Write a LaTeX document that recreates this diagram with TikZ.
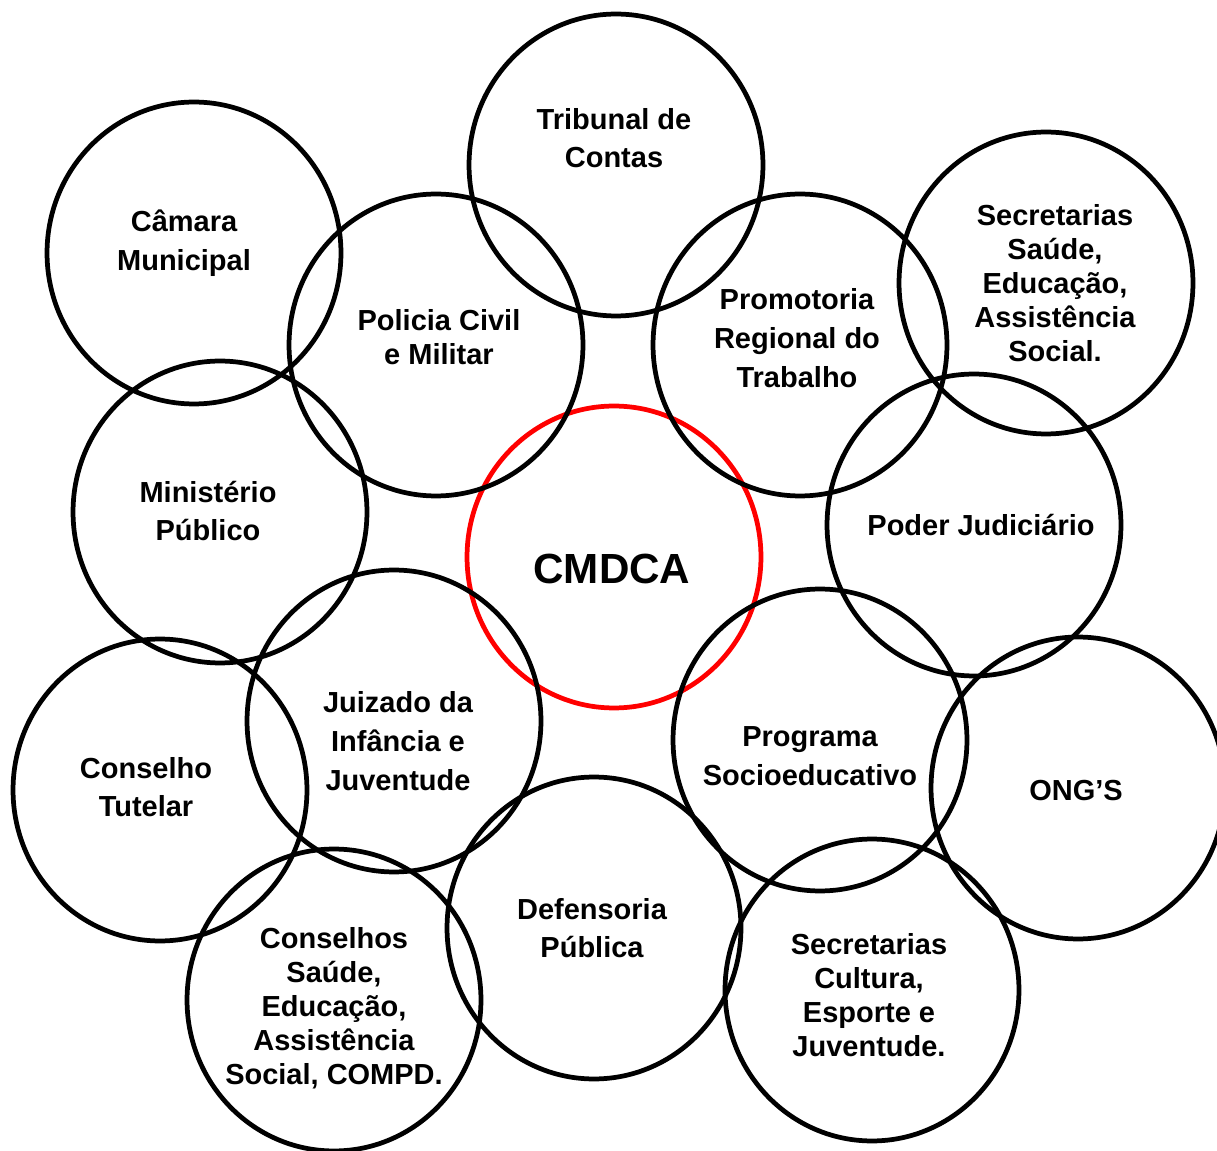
\documentclass[tikz,border=0pt]{standalone}
\usepackage{fontspec}
\setmainfont{Liberation Sans}
\usetikzlibrary{shapes.geometric}
\begin{document}
\begin{tikzpicture}[x=0.02cm,y=-0.02cm,
  ring/.style={draw=black,line width=2.7pt,ellipse,minimum width=5.88cm,minimum height=6.04cm,inner sep=0pt},
  redring/.style={ring,draw=red},
  lbl/.style={font=\fontsize{16.5}{22}\selectfont\bfseries,align=center,inner sep=0pt},
  lbltight/.style={font=\fontsize{16.5}{19.3}\selectfont\bfseries,align=center,inner sep=0pt}]
\useasboundingbox (0,0) rectangle (1217,1151);
% circles
\node[redring] (cmdca) at (614,557) {};
\node[ring] (trib) at (616,165) {};
\node[ring] (cam) at (194,253) {};
\node[ring] (pol) at (436,345) {};
\node[ring] (prom) at (800,345) {};
\node[ring] (secs) at (1046,283) {};
\node[ring] (min) at (220,512) {};
\node[ring] (pod) at (974,525) {};
\node[ring] (juiz) at (394,721) {};
\node[ring] (prog) at (820,740) {};
\node[ring] (ong) at (1078,788) {};
\node[ring] (cons) at (160,790) {};
\node[ring] (def) at (594,928) {};
\node[ring] (consaude) at (334,1000) {};
\node[ring] (secc) at (872,990) {};
% labels
\node[lbl] (tcmdca) at (612,569) {\fontsize{24}{28}\selectfont CMDCA};
\node[lbl] (ttrib) at (614,138) {Tribunal de\\Contas};
\node[lbl] (tcam) at (184,243) {Câmara\\Municipal};
\node[lbltight] (tpol) at (439,337) {Policia Civil\\e Militar};
\node[lbl] (tprom) at (797,338) {Promotoria\\Regional do\\Trabalho};
\node[lbltight] (tsecs) at (1055,283) {Secretarias\\Saúde,\\Educação,\\Assistência\\Social.};
\node[lbl] (tmin) at (208,511) {Ministério\\Público};
\node[lbl] (tpod) at (981,525) {Poder Judiciário};
\node[lbl] (tjuiz) at (398,741) {Juizado da\\Infância e\\Juventude};
\node[lbl] (tprog) at (810,756) {Programa\\Socioeducativo};
\node[lbl] (tong) at (1076,791) {ONG’S};
\node[lbl] (tcons) at (146,787) {Conselho\\Tutelar};
\node[lbl] (tdef) at (592,928) {Defensoria\\Pública};
\node[lbltight] (tconsaude) at (334,1008) {Conselhos\\Saúde,\\Educação,\\Assistência\\Social, COMPD.};
\node[lbltight] (tsecc) at (869,995) {Secretarias\\Cultura,\\Esporte e\\Juventude.};
\end{tikzpicture}
\end{document}
